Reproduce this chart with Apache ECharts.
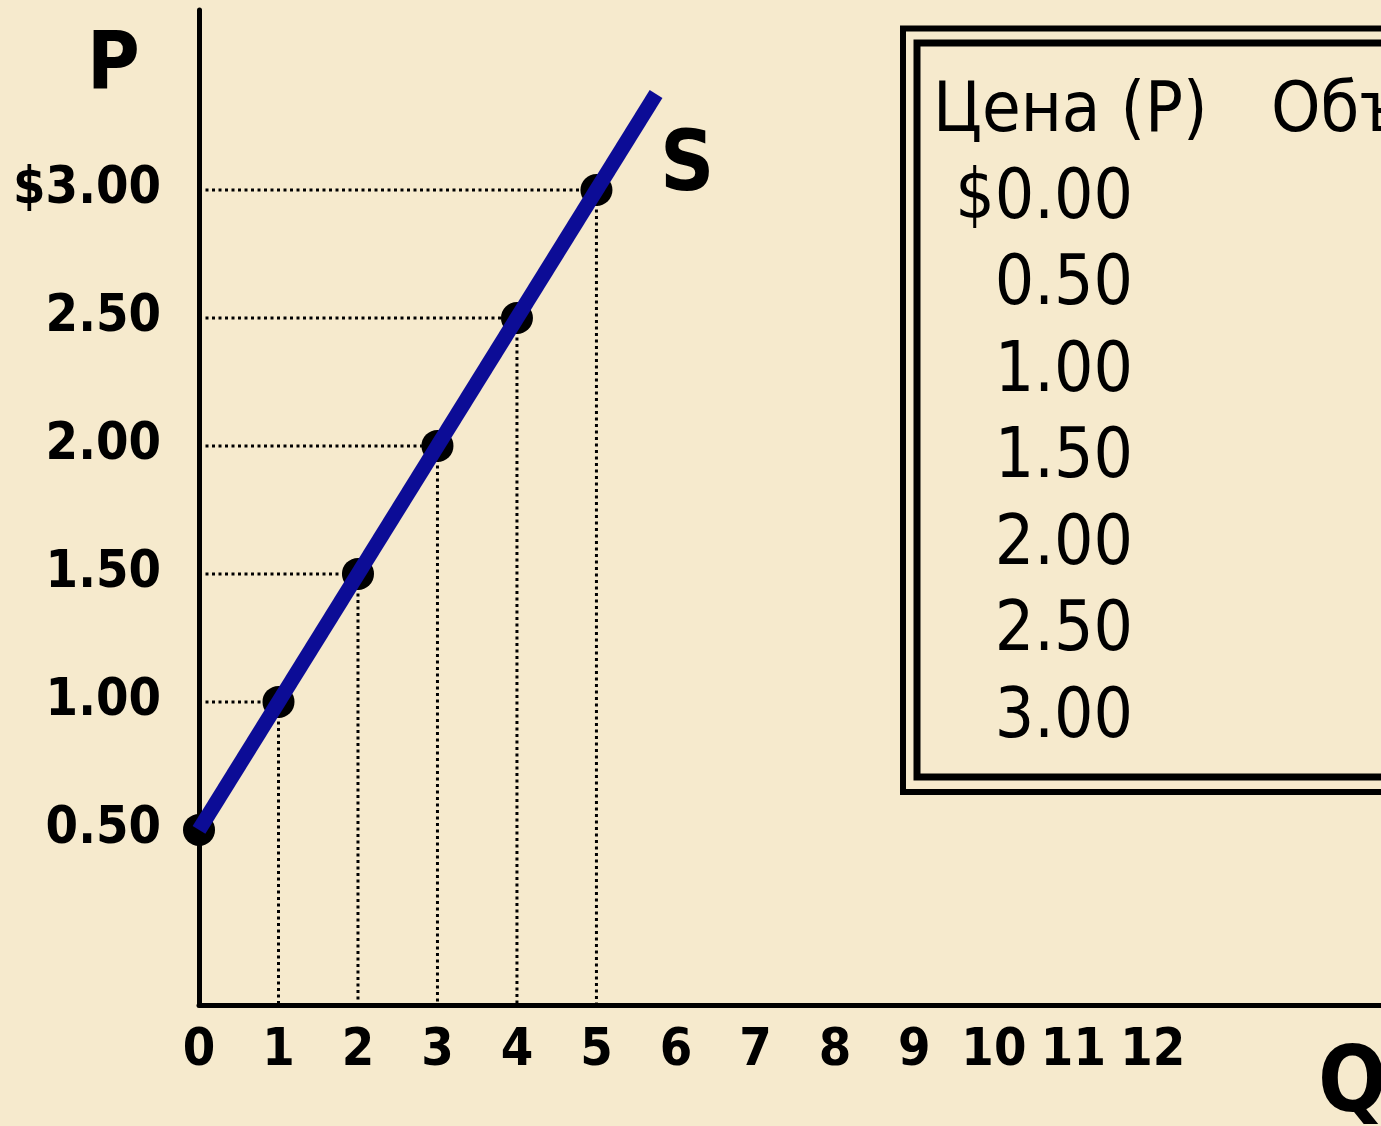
<!DOCTYPE html>
<html>
<head>
<meta charset="utf-8">
<title>Supply curve</title>
<script src="https://cdn.jsdelivr.net/npm/echarts@6/dist/echarts.min.js"></script>
<style>
  html, body { margin: 0; padding: 0; background: #f6eacd; }
  #chart { width: 1381px; height: 1126px; }
</style>
</head>
<body>
<div id="chart"></div>
<script>
  // supply schedule (Q, P)
  var quantity = [0, 1, 2, 3, 4, 5];
  var price = [0.5, 1, 1.5, 2, 2.5, 3];
  // the S line runs a little past the last point
  var lineQ = [0, 5.75];
  var lineP = [0.5, 3.375];
  var qTicks = [0, 1, 2, 3, 4, 5, 6, 7, 8, 9, 10, 11, 12];
  var pTicks = [0.5, 1, 1.5, 2, 2.5, 3];
  var tablePrices = [0, 0.5, 1, 1.5, 2, 2.5, 3];
  var tableHead = ['Цена (P)', 'Объем предложения (Q)'];

  var pMin = -0.184, pMax = 3.703;
  var font = '"DejaVu Sans Condensed", "DejaVu Sans", sans-serif';
  var blue = '#0c0c96';

  var series = [];
  // dotted guide lines from each point to both axes
  quantity.forEach(function (q, i) {
    if (q === 0) return;
    var dot = {
      type: 'line', symbol: 'none', silent: true, z: 1,
      lineStyle: {color: '#000', width: 3, type: [3, 3.5]}
    };
    series.push(Object.assign({}, dot, {data: [[0, price[i]], [q, price[i]]]}));
    series.push(Object.assign({}, dot, {data: [[q, price[i]], [q, pMin]]}));
  });
  series.push({
    type: 'scatter', z: 2, symbolSize: 32,
    itemStyle: {color: '#000', opacity: 1},
    data: quantity.map(function (q, i) { return [q, price[i]]; })
  });
  series.push({
    type: 'line', z: 3, symbol: 'none',
    lineStyle: {color: blue, width: 15},
    data: lineQ.map(function (q, i) { return [q, lineP[i]]; })
  });

  var graphic = [
    {type: 'text', left: 87, top: 27, style: {text: 'P', font: 'bold 80px ' + font, fill: '#000'}},
    {type: 'text', left: 660, top: 126, style: {text: 'S', font: 'bold 84px ' + font, fill: '#000'}},
    {type: 'text', left: 1318, top: 1043, style: {text: 'Q', font: 'bold 90px ' + font, fill: '#000'}},
    {type: 'rect', shape: {x: 903, y: 28.5, width: 700, height: 763.5},
      style: {fill: 'none', stroke: '#000', lineWidth: 6}},
    {type: 'rect', shape: {x: 917, y: 43, width: 700, height: 734},
      style: {fill: 'none', stroke: '#000', lineWidth: 7}},
    {type: 'text', x: 933, y: 113, style: {text: tableHead[0], font: '70px ' + font, fill: '#000', verticalAlign: 'middle'}},
    {type: 'text', x: 1271, y: 113, style: {text: tableHead[1], font: '70px ' + font, fill: '#000', verticalAlign: 'middle'}}
  ];
  tablePrices.forEach(function (p, i) {
    graphic.push({
      type: 'text', x: 1133, y: 200 + i * 86.5,
      style: {
        text: (i === 0 ? '$' : '') + p.toFixed(2),
        font: '69px ' + font, fill: '#000', align: 'right', verticalAlign: 'middle'
      }
    });
  });

  var chart = echarts.init(document.getElementById('chart'));
  chart.setOption({
    backgroundColor: '#f6eacd',
    animation: false,
    grid: {left: 199, right: 0, top: 10, bottom: 121, outerBoundsMode: 'none'},
    xAxis: {
      type: 'value', min: 0, max: 14.87,
      axisLine: {onZero: false, lineStyle: {color: '#000', width: 5}},
      axisTick: {show: false},
      splitLine: {show: false},
      axisLabel: {
        customValues: qTicks, margin: 20,
        color: '#000', fontWeight: 'bold', fontSize: 52, fontFamily: font
      }
    },
    yAxis: {
      type: 'value', min: pMin, max: pMax,
      axisLine: {show: true, onZero: false, lineStyle: {color: '#000', width: 5}},
      axisTick: {show: false},
      splitLine: {show: false},
      axisLabel: {
        customValues: pTicks, margin: 38,
        color: '#000', fontWeight: 'bold', fontSize: 52, fontFamily: font,
        formatter: function (v) { return (v === 3 ? '$' : '') + v.toFixed(2); }
      }
    },
    graphic: graphic,
    series: series
  });
</script>
</body>
</html>
